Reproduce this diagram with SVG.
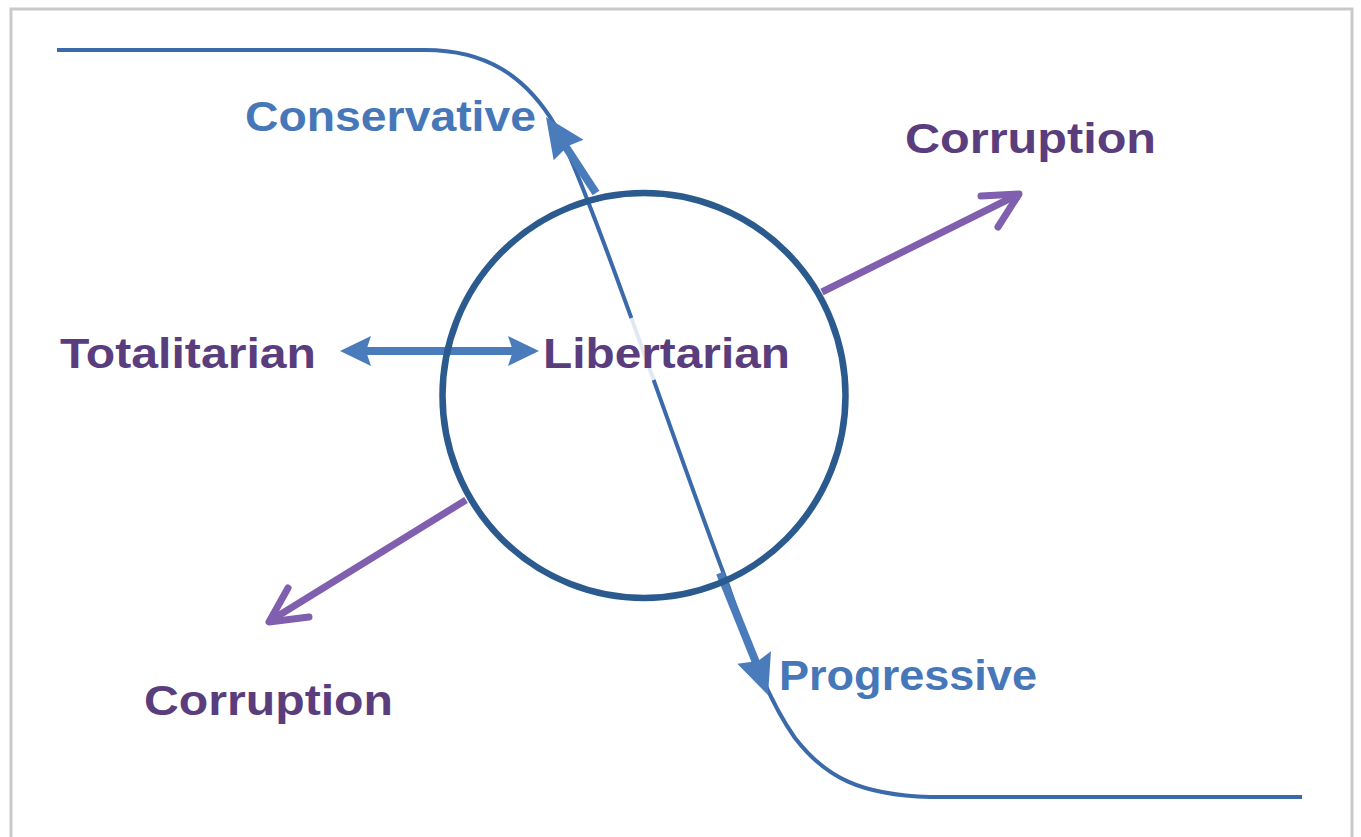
<svg xmlns="http://www.w3.org/2000/svg" width="1361" height="837" viewBox="0 0 1361 837">
<style>
.lbl{font-family:"Liberation Sans",Arial,sans-serif;font-weight:bold;font-size:42px}
.purp{fill:#5a3d7c}
.blue{fill:#4677b8}
.bl{stroke:#4a7cbc;fill:none;stroke-linecap:butt}
.pa{stroke:#7f5fae;stroke-width:7;fill:none}
</style>
<rect x="0" y="0" width="1361" height="837" fill="#ffffff"/>
<rect x="11" y="9" width="1341" height="845" fill="#ffffff" stroke="#c9c9c9" stroke-width="3"/>
<g id="connectors">
<path id="s-curve" d="M57,50 H425 C485,50 525,75 555,125 C590,190 680,460 728,585 C750,650 768,700 795,738 C825,777 860,795 930,797 H1302" fill="none" stroke="#3b6aaa" stroke-width="4"/>
<line x1="631.4" y1="318" x2="653.6" y2="380" stroke="#ffffff" stroke-width="7" opacity="0.85"/>
<g id="conservative-arrow">
<line class="bl" x1="596" y1="193" x2="562" y2="141" stroke-width="8"/>
<polygon points="546,117 583.5,139.8 568,146 553.7,160.2" fill="#4a7cbc"/>
</g>
<g id="progressive-arrow">
<line class="bl" x1="720" y1="573" x2="757" y2="665" stroke-width="8"/>
<polygon points="768,695 771,651.3 758,661 737.3,663.7" fill="#4a7cbc"/>
</g>
<g id="double-arrow">
<line class="bl" x1="362" y1="351" x2="518" y2="351" stroke-width="8"/>
<polygon points="340,351 371,336 366,351 371,366" fill="#4a7cbc"/>
<polygon points="539,351 508,336 513,351 508,366" fill="#4a7cbc"/>
</g>
<g id="corruption-arrow-ne">
<line class="pa" x1="822" y1="292" x2="1015" y2="196"/>
<polyline class="pa" points="981,196 1019,194 998,227" stroke-width="9" stroke-linejoin="round" stroke-linecap="round"/>
</g>
<g id="corruption-arrow-sw">
<line class="pa" x1="466" y1="500" x2="273" y2="619"/>
<polyline class="pa" points="288,588 269,622 309,617" stroke-width="9" stroke-linejoin="round" stroke-linecap="round"/>
</g>
</g>
<g id="libertarian-circle">
<ellipse cx="644" cy="395.5" rx="201.5" ry="202.5" fill="none" stroke="#2b5a8e" stroke-width="6.5"/>
</g>
<g id="conservative"><text class="lbl blue" x="245" y="131" textLength="291" lengthAdjust="spacingAndGlyphs">Conservative</text></g>
<g id="corruption-top"><text class="lbl purp" x="905" y="153" textLength="251" lengthAdjust="spacingAndGlyphs">Corruption</text></g>
<g id="totalitarian"><text class="lbl purp" x="60" y="368" textLength="256" lengthAdjust="spacingAndGlyphs">Totalitarian</text></g>
<g id="libertarian"><text class="lbl purp" x="543" y="368" textLength="247" lengthAdjust="spacingAndGlyphs">Libertarian</text></g>
<g id="progressive"><text class="lbl blue" x="779" y="690" textLength="258" lengthAdjust="spacingAndGlyphs">Progressive</text></g>
<g id="corruption-bottom"><text class="lbl purp" x="144" y="715" textLength="249" lengthAdjust="spacingAndGlyphs">Corruption</text></g>
</svg>
